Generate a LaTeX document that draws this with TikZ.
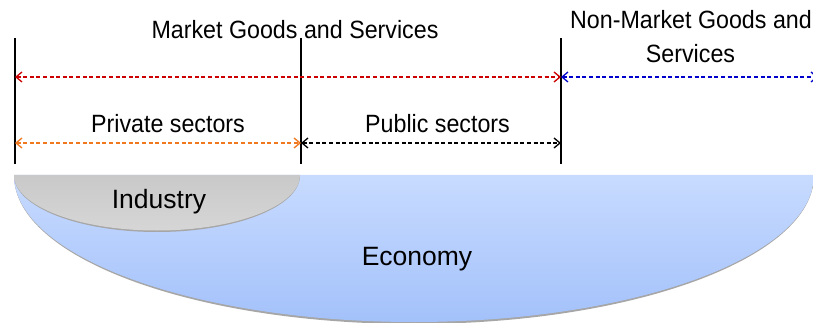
\documentclass[tikz,border=0pt]{standalone}
\usepackage{fontspec}
\setmainfont{Liberation Sans}
\usetikzlibrary{arrows.meta}
\definecolor{redd}{HTML}{CC0000}
\definecolor{orng}{HTML}{F0781E}
\definecolor{blu}{HTML}{0000CC}
\definecolor{econtop}{HTML}{C8DBFF}
\definecolor{econbot}{HTML}{A3C1FA}
\definecolor{indtop}{HTML}{C9C9C9}
\definecolor{indbot}{HTML}{D6D6D6}
\newcommand{\narrowtext}[1]{\scalebox{0.93}[1]{#1}}
\tikzset{
  divider/.style={line width=1.4pt, black},
  span/.style={line width=1.3pt, dash pattern=on 4pt off 2.6pt,
    {Straight Barb[length=6pt,width=10pt]}-{Straight Barb[length=6pt,width=10pt]}},
  toplabel/.style={anchor=base, inner sep=0pt, font=\fontsize{25}{34.4}\selectfont},
  biglabel/.style={anchor=base, inner sep=0pt, font=\fontsize{26.5}{30}\selectfont},
  shadowline/.style={fill=black!35, draw=none}
}
\begin{document}
\begin{tikzpicture}[x=1pt,y=1pt]
\clip (0,0) rectangle (813,-323);
\fill[white] (0,0) rectangle (813,-323);
% Economy shape
\fill[shadowline] (14,-175.5) arc (180:360:400 and 148.5) -- cycle;
\shade[top color=econtop, bottom color=econbot] (14,-175) arc (180:360:400 and 147) -- cycle;
% Industry shape
\fill[shadowline] (14,-175.5) arc (180:360:143 and 56.5) -- cycle;
\shade[top color=indtop, bottom color=indbot] (14,-175) arc (180:360:143 and 55.5) -- cycle;
\node[biglabel] (industry) at (159,-208) {Industry};
\node[biglabel] (economy) at (417,-265) {Economy};
% dividers
\coordinate (d1t) at (15,-38);  \coordinate (d1b) at (15,-164);
\coordinate (d2t) at (301,-38); \coordinate (d2b) at (301,-164);
\coordinate (d3t) at (561,-38); \coordinate (d3b) at (561,-164);
\draw[divider] (d1t) -- (d1b);
\draw[divider] (d2t) -- (d2b);
\draw[divider] (d3t) -- (d3b);
% arrow endpoints
\coordinate (r1) at (15,-77);  \coordinate (r2) at (561,-77);
\coordinate (b2) at (818,-77);
\coordinate (o1) at (15,-143); \coordinate (o2) at (301,-143);
\coordinate (k2) at (561,-143);
\draw[span, redd] (r1) -- (r2);
\draw[span, blu] (r2) -- (b2);
\draw[span, orng] (o1) -- (o2);
\draw[span, black] (o2) -- (k2);
% labels
\node[toplabel] (market) at (295,-39) {\narrowtext{Market Goods and Services}};
\node[toplabel] (nonmarket1) at (691,-28.3) {\narrowtext{Non-Market Goods and}};
\node[toplabel] (nonmarket2) at (690.5,-62.7) {\narrowtext{Services}};
\node[toplabel] (private) at (168,-133) {\narrowtext{Private sectors}};
\node[toplabel] (public) at (437.5,-132.5) {\narrowtext{Public sectors}};
\end{tikzpicture}
\end{document}
